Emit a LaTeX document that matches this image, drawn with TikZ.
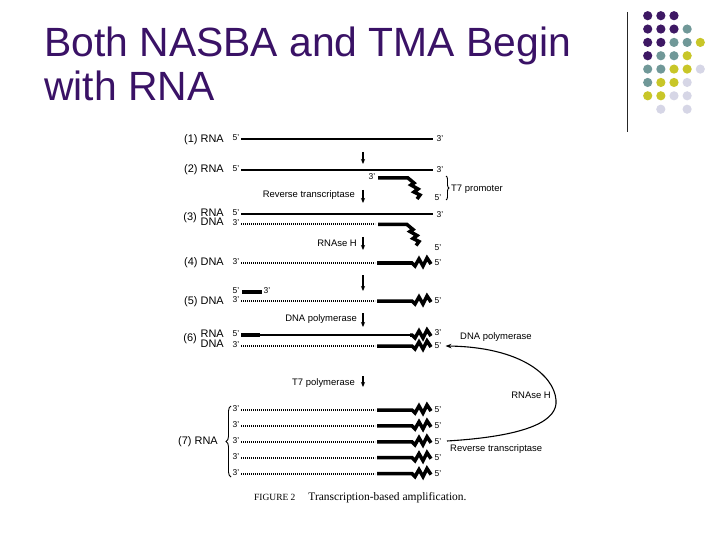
\documentclass[tikz,border=0pt]{standalone}
\usepackage{fontspec}
\setmainfont{Liberation Sans}
\newfontfamily\capfont{Liberation Serif}
\usetikzlibrary{arrows.meta,decorations.pathreplacing}

\definecolor{titlepurple}{RGB}{58,18,102}
\definecolor{dotP}{RGB}{62,24,100}
\definecolor{dotT}{RGB}{112,152,152}
\definecolor{dotY}{RGB}{200,198,40}
\definecolor{dotL}{RGB}{214,214,230}

\tikzset{
  rna/.style={line width=2bp},
  dna/.style={line width=1.8bp, dash pattern=on 1bp off 1bp},
  tail/.style={line width=3.5bp, line join=miter, miter limit=6},
  stepname/.style={font=\fontsize{11}{11}\selectfont, inner sep=0pt, anchor=east},
  prime/.style={font=\fontsize{8.5}{9}\selectfont, inner sep=0pt},
  enzyme/.style={font=\fontsize{9.5}{10}\selectfont, inner sep=0pt},
  down/.style={-{Stealth[length=5bp,width=4.2bp]}, line width=1.1bp},
  brc/.style={decorate, line width=0.9bp}
}

\begin{document}
\begin{tikzpicture}[x=1bp,y=-1bp]
  \useasboundingbox (0,0) rectangle (720,540);
  \def\xs{241}   % left end of strands
  \def\xd{375}   % end of dotted part
  \def\xt{412}   % start of zigzag
  \def\hzig{-- ++(3,3) -- ++(4,-7) -- ++(4,7) -- ++(4,-8) -- ++(4,6)}
  \def\vzig{-- ++(6,5) -- ++(-3,2) -- ++(7,4) -- ++(-4,3) -- ++(6,3) -- ++(-3,4)}

  % title
  \node[anchor=base west, text=titlepurple, font=\fontsize{41}{45}\selectfont,
        align=left, inner sep=0pt] (title) at (44,101) {Both NASBA and TMA Begin\\with RNA};

  % dot block top right
  \draw[line width=1bp, black!85] (627,12) -- (627,132);
  \foreach \row/\cols in {1/{P,P,P},2/{P,P,P,T},3/{P,P,T,T,Y},4/{P,T,T,Y},
                          5/{T,T,Y,Y,L},6/{T,Y,Y,L},7/{Y,Y,L,L}}
    \foreach \k [count=\col] in \cols
      \fill[fill=dot\k] ({634.55+13.15*\col},{2.35+13.35*\row}) circle (4.6bp);
  \fill[dotL] (660.8,109.2) circle (4.6bp);
  \fill[dotL] (687.1,109.2) circle (4.6bp);

  % step names
  \node[stepname] (s1) at (224,140) {(1) RNA};
  \node[stepname] (s2) at (224,170) {(2) RNA};
  \node[stepname] (s3) at (197,217.5) {(3)};
  \node[stepname] (s3r) at (224,212.5) {RNA};
  \node[stepname] (s3d) at (224,222) {DNA};
  \node[stepname] (s4) at (224,263) {(4) DNA};
  \node[stepname] (s5) at (224,301.5) {(5) DNA};
  \node[stepname] (s6) at (197,339) {(6)};
  \node[stepname] (s6r) at (224,334) {RNA};
  \node[stepname] (s6d) at (224,344) {DNA};
  \node[stepname] (s7) at (218,442) {(7) RNA};

  % (1), (2) and (3) RNA
  \foreach \y/\n in {139/1,170/2,214.5/3}{
    \node[prime] (l\n) at (236,\y-1.5) {5'};
    \draw[rna] (\xs,\y) -- (433,\y);
    \node[prime] (r\n) at (440,\y) {3'};
  }
  % primer with T7 promoter
  \node[prime] (pl2) at (372,177) {3'};
  \draw[tail] (378,178) -- (408,178) \vzig;
  \node[prime] (pr2) at (438,198) {5'};
  \draw[brc, decoration={brace,amplitude=3bp}] (446,176) -- (446,200);
  \node[enzyme, anchor=west] (t7) at (451,189) {T7 promoter};

  % (3) DNA strand
  \node[prime] (l3d) at (236,222.5) {3'};
  \draw[dna] (\xs,224) -- (\xd,224);
  \draw[tail] (378,224.5) -- (407,224.5) \vzig;
  \node[prime] (r3d) at (438,248) {5'};

  % (5) short primer
  \node[prime] (l5p) at (236,291) {5'};
  \draw[tail] (242,292) -- (262,292);
  \node[prime] (r5p) at (267,291) {3'};

  % (6) RNA
  \node[prime] (l6) at (236,334) {5'};
  \draw[tail] (\xs,335) -- (260,335);
  \draw[rna] (259,335) -- (\xt,335);
  \draw[tail] (410,335) -- (\xt,335) \hzig;
  \node[prime] (r6) at (438,333) {3'};

  % DNA strands of (4), (5), (6) and (7)
  \foreach \y [count=\i] in {263,301,346,410,425.9,441.8,457.7,473.6}{
    \node[prime] (dl\i) at (236,\y-1) {3'};
    \draw[dna] (\xs,\y) -- (\xd,\y);
    \draw[tail] (377,\y) -- (\xt,\y) \hzig;
    \node[prime] (dr\i) at (438,\y) {5'};
  }
  \draw[brc, decoration={brace,amplitude=5bp}] (231,477) -- (231,406);

  % down arrows with enzymes
  \foreach \n/\ya/\yb in {1/152/164,2/190/203,3/237/250,4/275/291,5/313/327,6/376/387}{
    \coordinate (as\n) at (363,\ya);
    \coordinate (ae\n) at (363,\yb);
    \draw[down] (as\n) -- (ae\n);
  }
  \node[enzyme, anchor=east] (rt) at (355,195) {Reverse transcriptase};
  \node[enzyme, anchor=east] (rh) at (357,243) {RNAse H};
  \node[enzyme, anchor=east] (dp) at (357,319) {DNA polymerase};
  \node[enzyme, anchor=east] (tp) at (355,383) {T7 polymerase};

  % cycle back
  \coordinate (cyc) at (447,441);
  \draw[-{Stealth[length=6bp,width=4.5bp]}, line width=1.1bp]
    (cyc) .. controls (530,436) and (558,420) .. (556,400)
          .. controls (554,375) and (520,347) .. ([xshift=4bp]dr3.east);
  \node[enzyme, anchor=west] (dp2) at (460,337) {DNA polymerase};
  \node[enzyme, anchor=east] (rh2) at (551,395) {RNAse H};
  \node[enzyme, anchor=west] (rt2) at (450,449.5) {Reverse transcriptase};

  % caption
  \node[anchor=base west, inner sep=0pt] (cap) at (254,500)
    {\capfont\fontsize{9.5}{10}\selectfont FIGURE 2\hspace{13bp}\fontsize{11.5}{12}\selectfont Transcription-based amplification.};
\end{tikzpicture}
\end{document}
